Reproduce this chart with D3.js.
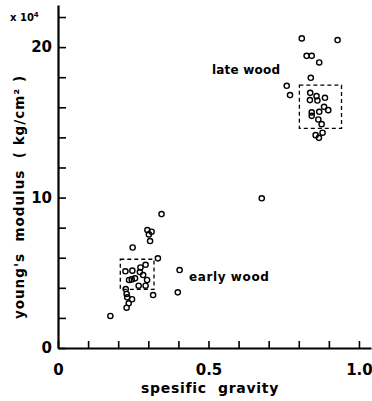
<!DOCTYPE html>
<html>
<head>
<meta charset="utf-8">
<script src="https://cdn.jsdelivr.net/npm/d3@7"></script>
<style>
  body { margin: 0; background: #fff; }
  text { font-family: "DejaVu Sans", sans-serif; font-weight: bold; fill: #000; }
</style>
</head>
<body>
<svg width="372" height="401"></svg>
<script>
// specific gravity / young's modulus (x10^4 kg/cm2)
const earlyX = [0.174, 0.344, 0.297, 0.311, 0.302, 0.306, 0.248, 0.332, 0.224, 0.247, 0.274, 0.291, 0.272, 0.283,
  0.256, 0.236, 0.245, 0.296, 0.268, 0.291, 0.225, 0.316, 0.228, 0.230, 0.246, 0.235, 0.228, 0.398, 0.404];
const earlyY = [2.13, 8.90, 7.84, 7.73, 7.55, 7.11, 6.68, 5.96, 5.10, 5.14, 5.35, 5.53, 5.05, 4.85,
  4.63, 4.52, 4.56, 4.52, 4.14, 4.14, 3.92, 3.52, 3.59, 3.37, 3.24, 2.97, 2.68, 3.70, 5.18];

const lateX = [0.677, 0.810, 0.929, 0.826, 0.843, 0.868, 0.840, 0.760, 0.771, 0.838, 0.859, 0.862, 0.887, 0.837,
  0.884, 0.898, 0.868, 0.843, 0.843, 0.865, 0.876, 0.879, 0.856, 0.867];
const lateY = [9.95, 20.58, 20.47, 19.42, 19.42, 18.98, 17.96, 17.43, 16.81, 16.96, 16.74, 16.45, 16.63, 16.48,
  16.03, 15.81, 15.70, 15.66, 15.43, 15.19, 14.88, 14.31, 14.15, 13.97];

// dashed boxes [x0, x1, y0, y1]
const earlyBox = [0.207, 0.319, 3.9, 5.9];
const lateBox = [0.802, 0.942, 14.6, 17.47];

const xTicks = d3.range(0, 1.01, 0.1);
const xLabels = {"0": "0", "0.5": "0.5", "1": "1.0"};
const yTicks = d3.range(0, 23, 2);
const yLabels = [0, 10, 20];

const svg = d3.select("svg");
const x = d3.scaleLinear().domain([0, 1.04]).range([58, 371]);
const y = d3.scaleLinear().domain([0, 22.8]).range([348, 5]);

svg.append("g")
  .attr("transform", `translate(0,${y(0)})`)
  .call(d3.axisBottom(x).tickValues(xTicks).tickSizeInner(-7).tickSizeOuter(0).tickPadding(16)
    .tickFormat(d => xLabels[String(+d.toFixed(1))] || ""))
  .call(g => g.select(".domain").attr("stroke-width", 2.2))
  .call(g => g.selectAll(".tick line").attr("stroke-width", 1.6))
  .call(g => g.selectAll("text").attr("font-size", 15).attr("font-family", "DejaVu Sans").attr("font-weight", "bold"));

svg.append("g")
  .attr("transform", `translate(${x(0)},0)`)
  .call(d3.axisLeft(y).tickValues(yTicks).tickSizeInner(-8).tickSizeOuter(0).tickPadding(6)
    .tickFormat(d => yLabels.includes(d) ? d : ""))
  .call(g => g.select(".domain").attr("stroke-width", 2.2))
  .call(g => g.selectAll(".tick line").attr("stroke-width", 1.6))
  .call(g => g.selectAll("text").attr("font-size", 15).attr("font-family", "DejaVu Sans").attr("font-weight", "bold"));

// boxes
svg.selectAll("rect.box")
  .data([earlyBox, lateBox])
  .join("rect")
  .attr("class", "box")
  .attr("x", d => x(d[0]))
  .attr("y", d => y(d[3]))
  .attr("width", d => x(d[1]) - x(d[0]))
  .attr("height", d => y(d[2]) - y(d[3]))
  .attr("fill", "none")
  .attr("stroke", "#000")
  .attr("stroke-width", 1.3)
  .attr("stroke-dasharray", "4,3");

const pts = earlyX.map((v, i) => [v, earlyY[i]]).concat(lateX.map((v, i) => [v, lateY[i]]));
svg.selectAll("circle")
  .data(pts)
  .join("circle")
  .attr("cx", d => x(d[0]))
  .attr("cy", d => y(d[1]))
  .attr("r", 2.6)
  .attr("fill", "none")
  .attr("stroke", "#000")
  .attr("stroke-width", 1.4);

// labels
const xl = svg.append("text").attr("x", 10).attr("y", 21).attr("font-size", 10).text("x 10");
xl.append("tspan").attr("dy", -4).attr("font-size", 7).text("4");

svg.append("text")
  .attr("transform", "translate(24,197) rotate(-90)")
  .attr("text-anchor", "middle")
  .attr("font-size", 13.5)
  .attr("letter-spacing", 1)
  .attr("xml:space", "preserve")
  .text("young's  modulus  ( kg/cm² )");

svg.append("text")
  .attr("x", 210).attr("y", 393)
  .attr("text-anchor", "middle")
  .attr("font-size", 14)
  .attr("letter-spacing", 0.7)
  .attr("xml:space", "preserve")
  .text("spesific  gravity");

svg.append("text").attr("x", 212).attr("y", 74).attr("font-size", 12).attr("letter-spacing", 0.2).text("late wood");
svg.append("text").attr("x", 189).attr("y", 281).attr("font-size", 12).attr("letter-spacing", 0.6).text("early wood");
</script>
</body>
</html>
